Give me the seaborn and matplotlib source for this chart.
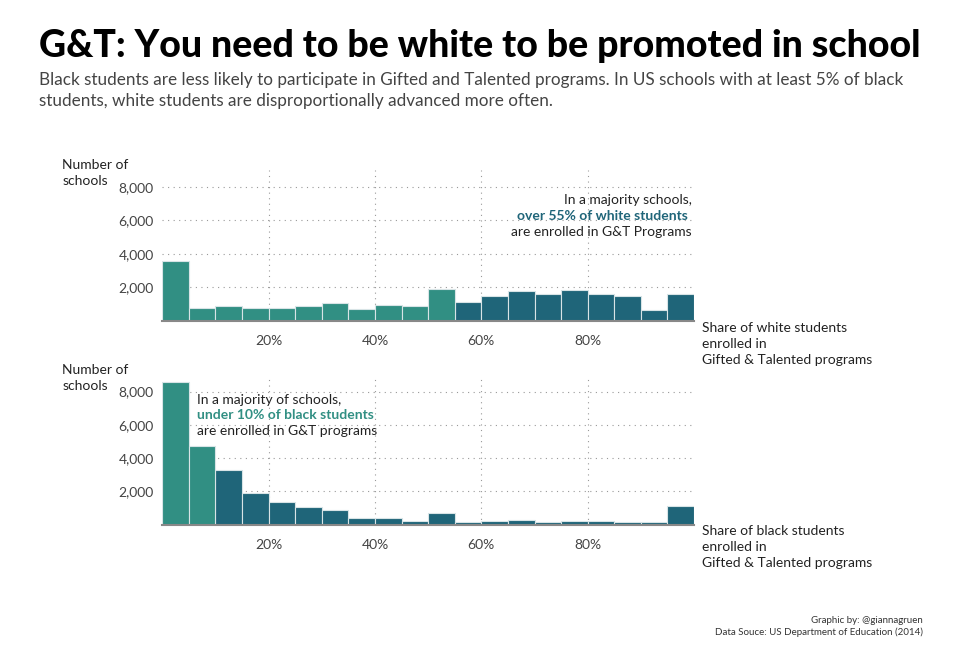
import numpy as np
import pandas as pd
import matplotlib.pyplot as plt
import seaborn as sns

sns.set_theme(style="white")
plt.rcParams['font.family'] = ['Lato', 'DejaVu Sans']

# share of students enrolled in G&T, 5% bins
bin_edges = list(range(0, 105, 5))
bin_mids = [e + 2.5 for e in bin_edges[:-1]]

white_counts = [3560, 770, 870, 770, 770, 910, 1050, 710, 970, 870,
                1880, 1130, 1470, 1760, 1630, 1860, 1630, 1470, 650, 1630]
black_counts = [8600, 4740, 3300, 1930, 1370, 1050, 880, 400, 400, 220,
                680, 160, 200, 280, 160, 200, 200, 160, 140, 1110]

white_cut = 55   # bins below this are teal
black_cut = 10

teal = "#318f83"
navy = "#1f6579"
grey_txt = "#444444"

x_ticks = [20, 40, 60, 80]
x_ticklabels = ["20%", "40%", "60%", "80%"]
y_ticks = [2000, 4000, 6000, 8000]


def make_df(counts, cut):
    df = pd.DataFrame({"share": bin_mids, "schools": counts})
    df["grp"] = np.where(df["share"] < cut, "low", "high")
    return df


fig = plt.figure(figsize=(9.6, 6.51), dpi=100)
ax1 = fig.add_axes([0.169, 0.507, 0.554, 0.232])
ax2 = fig.add_axes([0.169, 0.194, 0.554, 0.230])

panels = [
    (ax1, make_df(white_counts, white_cut), "Share of white students\nenrolled in\nGifted & Talented programs"),
    (ax2, make_df(black_counts, black_cut), "Share of black students\nenrolled in\nGifted & Talented programs"),
]

for ax, df, xlab in panels:
    sns.histplot(data=df, x="share", weights="schools", hue="grp", bins=bin_edges,
                 palette={"low": teal, "high": navy}, alpha=1, legend=False,
                 edgecolor="#d8e4e6", linewidth=0.8, ax=ax)
    ax.set_xlim(0, 100)
    ax.set_ylim(0, 9000)
    ax.set_xticks(x_ticks)
    ax.set_xticklabels(x_ticklabels)
    ax.set_yticks(y_ticks)
    ax.set_yticklabels([f"{v:,}" for v in y_ticks])
    ax.grid(True, linestyle=(0, (1, 4)), color="#999999", linewidth=0.8)
    ax.set_axisbelow(True)
    for s in ["top", "right", "left"]:
        ax.spines[s].set_visible(False)
    ax.spines["bottom"].set_color("#888888")
    ax.spines["bottom"].set_linewidth(1.5)
    ax.tick_params(axis="both", length=0, labelsize=10, colors=grey_txt, pad=6)
    ax.tick_params(axis="x", pad=10)
    ax.set_xlabel("")
    ax.set_ylabel("")
    # y-axis title, two separate lines like the original
    ax.text(-0.188, 1.07, "Number of", transform=ax.transAxes,
            fontsize=10, color="#222222", va="top", ha="left")
    ax.text(-0.188, 0.965, "schools", transform=ax.transAxes,
            fontsize=10, color="#222222", va="top", ha="left")
    ax.text(1.015, -0.005, xlab, transform=ax.transAxes, fontsize=10,
            color="#222222", va="top", ha="left", linespacing=1.4)

# annotations
ax1.text(0.995, 0.80, "In a majority schools,", transform=ax1.transAxes,
         ha="right", va="center", fontsize=10, color="#222222")
ax1.text(0.995, 0.695, "over 55% of white students ", transform=ax1.transAxes,
         ha="right", va="center", fontsize=10, color=navy, fontweight="bold")
ax1.text(0.995, 0.59, "are enrolled in G&T Programs", transform=ax1.transAxes,
         ha="right", va="center", fontsize=10, color="#222222")

ax2.text(0.065, 0.835, "In a majority of schools,", transform=ax2.transAxes,
         ha="left", va="center", fontsize=10, color="#222222")
ax2.text(0.065, 0.73, "under 10% of black students", transform=ax2.transAxes,
         ha="left", va="center", fontsize=10, color=teal, fontweight="bold")
ax2.text(0.065, 0.625, "are enrolled in G&T programs", transform=ax2.transAxes,
         ha="left", va="center", fontsize=10, color="#222222")

fig.text(0.041, 0.930, "G&T: You need to be white to be promoted in school",
         fontsize=27, fontweight="black", color="black", va="center", ha="left")
fig.text(0.041, 0.861, "Black students are less likely to participate in Gifted and Talented programs. In US schools with at least 5% of black\nstudents, white students are disproportionally advanced more often.",
         fontsize=12.3, color=grey_txt, va="center", ha="left", linespacing=1.35)

fig.text(0.961, 0.038, "Graphic by: @giannagruen\nData Souce: US Department of Education (2014)",
         fontsize=7, color="#333333", ha="right", va="center", multialignment="right", linespacing=1.3)

fig.savefig("out.png", dpi=100, facecolor="white")
